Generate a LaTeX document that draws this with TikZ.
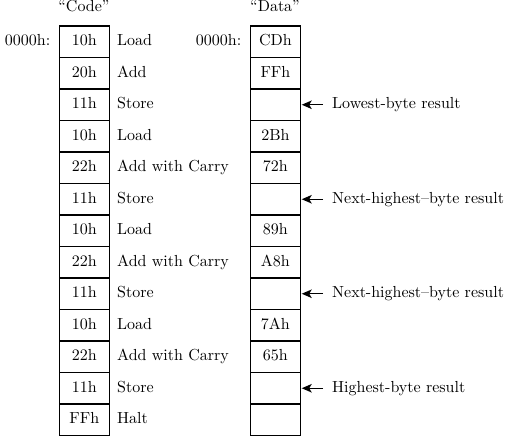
\documentclass[tikz,border=0pt]{standalone}
\usepackage{fontspec}
\setmainfont{lmroman10-regular.otf}
\usetikzlibrary{arrows.meta}
\begin{document}
\begin{tikzpicture}[x=1pt,y=-1pt,
  every node/.style={font=\fontsize{16}{19}\selectfont, text height=11pt, text depth=3.5pt, inner sep=0pt},
  cell/.style={draw, line width=1.4pt, minimum width=50pt, minimum height=31.5pt, anchor=center},
  lbl/.style={anchor=west},
  addr/.style={anchor=east},
  res/.style={anchor=west, inner xsep=9pt},
  arr/.style={line width=1.4pt, -{Stealth[length=10pt,width=8.5pt,inset=2.5pt]}, shorten >=0.6pt}]
\useasboundingbox (0,0) rectangle (507,437);
% headers
\node (hc) at (84,8) {``Code''};
\node (hd) at (275,8) {``Data''};
% code column
\foreach \i/\v/\t in {1/10h/Load,2/20h/Add,3/11h/Store,4/10h/Load,5/22h/Add with Carry,6/11h/Store,7/10h/Load,8/22h/Add with Carry,9/11h/Store,10/10h/Load,11/22h/Add with Carry,12/11h/Store,13/FFh/Halt}{
  \node[cell] (c\i) at (84.3, {26+(\i-0.5)*31.5}) {\v};
  \node[lbl] (n\i) at (117, {26+(\i-0.5)*31.5}) {\t};
}
% data column
\foreach \i/\v in {1/CDh,2/FFh,3/{},4/2Bh,5/72h,6/{},7/89h,8/A8h,9/{},10/7Ah,11/65h,12/{},13/{}}{
  \node[cell] (d\i) at (275.4, {26+(\i-0.5)*31.5}) {\v};
}
\node[addr] (ac) at (50.5, 41.75) {0000h:};
\node[addr] (ad) at (241.5, 41.75) {0000h:};
% results
\node[res] (r3) at (323, {26+2.5*31.5}) {Lowest-byte result};
\node[res] (r6) at (323, {26+5.5*31.5}) {Next-highest--byte result};
\node[res] (r9) at (323, {26+8.5*31.5}) {Next-highest--byte result};
\node[res] (r12) at (323, {26+11.5*31.5}) {Highest-byte result};
\draw[arr] (r3.west) -- (d3.east);
\draw[arr] (r6.west) -- (d6.east);
\draw[arr] (r9.west) -- (d9.east);
\draw[arr] (r12.west) -- (d12.east);
\end{tikzpicture}
\end{document}
